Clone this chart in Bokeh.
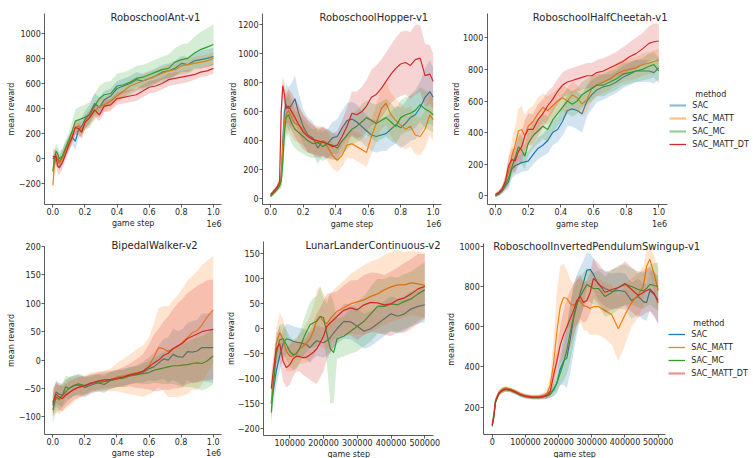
import math
from bokeh.plotting import figure
from bokeh.layouts import row, column
from bokeh.models import (Range1d, FixedTicker, Label, Legend, LegendItem,
                          NumeralTickFormatter, BasicTickFormatter, CustomJSTickFormatter)
from bokeh.embed import file_html
from bokeh.resources import INLINE

methods = ["SAC", "SAC_MATT", "SAC_MC", "SAC_MATT_DT"]
colors = ["#1f77b4", "#ff7f0e", "#2ca02c", "#d62728"]

# ---------------- RoboschoolAnt-v1 (x in 1e6 steps) ----------------
ant_x = [0.00, 0.01, 0.02, 0.03, 0.04, 0.06, 0.08, 0.10, 0.12, 0.14, 0.16, 0.18, 0.20, 0.23, 0.26, 0.29, 0.32,
         0.36, 0.40, 0.44, 0.48, 0.52, 0.56, 0.60, 0.64, 0.68, 0.72, 0.76, 0.80, 0.84, 0.88, 0.92, 0.96, 1.00]
ant_sac = [0, 10, -20, 10, -30, 20, 80, 120, 170, 140, 230, 260, 310, 360, 440, 410, 470,
           500, 560, 580, 600, 630, 620, 640, 660, 690, 700, 720, 760, 750, 780, 790, 800, 815]
ant_sac_sd = [30, 40, 50, 60, 60, 60, 60, 60, 60, 70, 70, 70, 70, 70, 80, 80, 70,
              60, 60, 60, 60, 60, 60, 60, 60, 60, 60, 60, 60, 60, 60, 70, 70, 70]
ant_matt = [-210, -50, 30, 0, -40, 10, 70, 130, 180, 250, 260, 230, 290, 330, 380, 420, 430,
            460, 500, 540, 580, 600, 620, 640, 660, 680, 700, 710, 740, 750, 760, 770, 780, 800]
ant_matt_sd = [90, 80, 60, 60, 50, 50, 50, 50, 50, 60, 60, 60, 60, 60, 70, 70, 60,
               60, 50, 50, 50, 50, 50, 50, 50, 50, 50, 50, 50, 50, 50, 50, 50, 50]
ant_mc = [-100, 0, 60, 40, 0, 20, 90, 150, 220, 300, 310, 320, 330, 350, 420, 480, 510,
          520, 580, 590, 610, 640, 650, 670, 690, 710, 720, 770, 790, 800, 840, 870, 890, 910]
ant_mc_sd = [60, 60, 60, 60, 60, 60, 60, 60, 80, 90, 100, 100, 100, 100, 100, 100, 100,
             100, 100, 100, 100, 100, 100, 100, 100, 100, 110, 110, 120, 120, 130, 140, 150, 160]
ant_dt = [20, 15, 20, -60, -70, -30, 40, 110, 170, 250, 240, 210, 290, 330, 390, 350, 420,
          430, 480, 490, 500, 510, 540, 570, 580, 600, 630, 640, 650, 660, 670, 690, 700, 720]
ant_dt_sd = [60, 60, 60, 60, 60, 50, 50, 50, 50, 50, 50, 50, 50, 50, 50, 50, 50,
             50, 50, 50, 50, 50, 50, 50, 50, 50, 50, 50, 50, 50, 40, 40, 40, 40]

# ---------------- RoboschoolHopper-v1 ----------------
hop_x = [0, 0.02, 0.04, 0.055, 0.065, 0.075, 0.085, 0.095, 0.11, 0.13, 0.15, 0.17, 0.2, 0.23, 0.26, 0.29, 0.32, 0.35,
         0.38, 0.41, 0.44, 0.47, 0.5, 0.53, 0.56, 0.59, 0.62, 0.65, 0.68, 0.71, 0.74, 0.77, 0.8, 0.83, 0.86, 0.89,
         0.92, 0.95, 0.98, 1.0]
hop_sac = [25, 50, 75, 100, 150, 400, 600, 650, 620, 650, 690, 600, 500, 440, 420, 350, 400, 380,
           420, 430, 490, 540, 550, 530, 500, 470, 440, 430, 440, 450, 480, 510, 490, 520, 560, 580,
           630, 700, 740, 700]
hop_sac_sd = [10, 15, 20, 25, 60, 120, 130, 140, 150, 150, 160, 140, 120, 120, 110, 110, 100, 100,
              110, 120, 120, 120, 120, 120, 110, 110, 110, 110, 110, 120, 120, 130, 140, 150, 160, 170,
              180, 200, 220, 200]
hop_matt = [20, 45, 70, 95, 140, 350, 540, 580, 610, 560, 520, 510, 480, 430, 410, 380, 400, 360,
            300, 265, 300, 370, 380, 360, 340, 320, 430, 520, 620, 660, 580, 540, 510, 480, 500, 440,
            430, 480, 580, 545]
hop_matt_sd = [10, 15, 20, 25, 60, 120, 130, 140, 140, 130, 120, 120, 110, 110, 100, 100, 100, 100,
               90, 80, 80, 90, 100, 100, 100, 100, 120, 130, 140, 150, 150, 150, 150, 140, 140, 130,
               130, 130, 140, 150]
hop_mc = [15, 40, 65, 90, 120, 250, 450, 560, 580, 520, 480, 460, 430, 400, 380, 390, 360, 380,
          370, 350, 400, 440, 480, 500, 530, 560, 540, 520, 540, 560, 530, 500, 560, 580, 590, 610,
          650, 620, 600, 580]
hop_mc_sd = [10, 15, 20, 25, 50, 100, 120, 130, 140, 140, 130, 130, 120, 110, 100, 100, 100, 100,
             90, 90, 90, 100, 110, 110, 120, 120, 120, 130, 130, 130, 130, 120, 120, 120, 120, 120,
             120, 130, 130, 120]
hop_dt = [30, 55, 80, 120, 600, 780, 720, 620, 640, 600, 560, 520, 460, 430, 410, 400, 390, 380,
          360, 370, 430, 500, 590, 580, 600, 640, 700, 720, 760, 810, 860, 900, 930, 940, 920, 960,
          970, 850, 860, 810]
hop_dt_sd = [10, 15, 20, 30, 100, 60, 80, 100, 120, 130, 130, 130, 120, 110, 100, 100, 100, 100,
             90, 100, 110, 130, 150, 160, 170, 180, 190, 200, 200, 200, 200, 210, 220, 220, 230, 240,
             230, 220, 200, 190]

# ---------------- RoboschoolHalfCheetah-v1 ----------------
hc_x = [0, 0.02, 0.04, 0.06, 0.08, 0.10, 0.12, 0.14, 0.16, 0.18, 0.20, 0.23, 0.26, 0.29, 0.32, 0.35, 0.38, 0.41,
        0.44, 0.47, 0.50, 0.53, 0.56, 0.59, 0.62, 0.66, 0.70, 0.74, 0.78, 0.82, 0.86, 0.90, 0.94, 0.97, 1.00]
hc_sac = [0, 10, 30, 60, 90, 170, 190, 200, 210, 215, 220, 260, 300, 320, 350, 400, 420, 470,
          540, 550, 540, 520, 600, 640, 670, 690, 700, 720, 750, 770, 790, 790, 790, 780, 810]
hc_sac_sd = [10, 15, 20, 30, 50, 60, 60, 60, 60, 60, 60, 60, 70, 70, 80, 80, 80, 90,
             100, 110, 120, 120, 100, 90, 80, 80, 70, 70, 70, 70, 70, 70, 70, 70, 70]
hc_matt = [5, 20, 40, 80, 150, 250, 320, 410, 420, 380, 440, 470, 520, 560, 540, 570, 600, 620,
           600, 640, 620, 580, 610, 680, 700, 720, 740, 770, 790, 800, 810, 830, 840, 850, 860]
hc_matt_sd = [10, 15, 20, 40, 80, 100, 120, 140, 150, 130, 110, 100, 100, 90, 90, 80, 80, 80,
              80, 80, 80, 80, 80, 80, 70, 70, 70, 70, 70, 70, 70, 70, 70, 70, 70]
hc_mc = [0, 15, 40, 70, 110, 180, 240, 310, 290, 250, 330, 380, 410, 440, 420, 480, 520, 560,
         600, 580, 600, 640, 660, 680, 700, 700, 720, 740, 770, 780, 790, 800, 820, 830, 790]
hc_mc_sd = [10, 15, 20, 30, 50, 60, 80, 90, 90, 80, 80, 80, 80, 80, 80, 80, 80, 80,
            80, 80, 80, 80, 80, 80, 70, 70, 70, 70, 70, 70, 70, 70, 80, 80, 80]
hc_dt = [10, 20, 40, 90, 190, 230, 220, 280, 310, 380, 420, 420, 480, 520, 570, 610, 660, 700,
         720, 730, 740, 750, 760, 760, 780, 790, 810, 830, 850, 880, 900, 930, 965, 975, 980]
hc_dt_sd = [10, 15, 20, 40, 60, 70, 80, 90, 100, 100, 100, 100, 100, 90, 90, 80, 80, 80,
            80, 80, 80, 80, 80, 80, 80, 80, 80, 80, 90, 90, 100, 100, 110, 115, 110]

# ---------------- BipedalWalker-v2 ----------------
bw_x = [0, 0.02, 0.04, 0.06, 0.08, 0.10, 0.13, 0.16, 0.20, 0.24, 0.28, 0.32, 0.36, 0.40, 0.44, 0.48,
        0.52, 0.56, 0.60, 0.63, 0.66, 0.69, 0.72, 0.75, 0.78, 0.81, 0.84, 0.87, 0.90, 0.93, 0.96, 1.00]
bw_sac = [-80, -56, -60, -62, -56, -50, -45, -44, -48, -44, -40, -43, -36, -33, -30, -27,
          -25, -22, -15, -12, -5, 2, 0, 10, 6, 5, 15, 14, 16, 22, 22, 22]
bw_sac_sd = [20, 20, 20, 20, 20, 20, 18, 18, 18, 15, 15, 15, 15, 15, 15, 15,
             15, 18, 20, 25, 30, 35, 40, 45, 45, 50, 50, 55, 55, 60, 60, 62]
bw_matt = [-72, -68, -70, -65, -60, -57, -52, -48, -45, -40, -38, -37, -35, -30, -28, -25,
           -22, -20, -10, 5, 22, 20, 15, 20, 25, 32, 40, 48, 52, 62, 75, 88]
bw_matt_sd = [25, 25, 25, 25, 25, 25, 22, 20, 18, 18, 18, 18, 20, 25, 30, 35,
              40, 45, 50, 60, 70, 75, 80, 85, 90, 95, 100, 100, 105, 105, 100, 95]
bw_mc = [-88, -65, -68, -62, -47, -50, -45, -42, -45, -40, -40, -38, -36, -33, -32, -28,
         -26, -24, -22, -18, -16, -14, -12, -10, -10, -9, -8, -6, -5, -6, -2, 7]
bw_mc_sd = [25, 25, 22, 20, 20, 20, 18, 18, 16, 15, 15, 15, 15, 15, 15, 15,
            15, 18, 20, 22, 25, 28, 30, 32, 35, 38, 40, 42, 45, 48, 48, 50]
bw_dt = [-75, -60, -65, -68, -62, -58, -52, -48, -45, -41, -37, -35, -34, -32, -30, -26,
         -24, -20, -12, -5, 0, 8, 12, 20, 25, 30, 38, 42, 46, 50, 52, 54]
bw_dt_sd = [22, 22, 22, 22, 20, 20, 18, 18, 16, 15, 15, 15, 15, 15, 18, 20,
            25, 30, 40, 50, 55, 60, 65, 70, 75, 78, 80, 82, 85, 85, 88, 88]

# ---------------- LunarLanderContinuous-v2 ----------------
ll_x = [45000, 52000, 60000, 70000, 80000, 90000, 100000, 110000, 120000, 130000, 140000, 150000,
        160000, 170000, 180000, 190000, 200000, 210000, 220000, 230000, 240000, 260000, 280000,
        300000, 320000, 340000, 360000, 380000, 400000, 420000, 440000, 460000, 480000, 500000]
ll_sac = [-150, -120, -85, -55, -30, -20, -22, -25, -27, -28, -30, -32, -38, -30, -24, -26, -28,
          -24, -18, -8, 0, 15, 14, 5, -5, 0, 10, 20, 30, 25, 30, 40, 45, 48]
ll_sac_sd = [30, 30, 30, 30, 30, 30, 30, 30, 30, 30, 30, 30, 30, 30, 30, 30, 30,
             30, 30, 30, 30, 35, 35, 35, 35, 35, 35, 35, 35, 35, 35, 35, 35, 35]
ll_matt = [-150, -100, -30, -8, -20, -45, -55, -55, -48, -40, -35, -28, -20, -5, 18, 25, 15,
           10, 20, 28, 35, 42, 50, 54, 58, 65, 70, 78, 84, 88, 88, 92, 90, 87]
ll_matt_sd = [30, 30, 30, 40, 40, 40, 30, 30, 30, 30, 35, 40, 45, 50, 60, 60, 55,
              50, 50, 50, 50, 55, 60, 65, 70, 70, 70, 70, 70, 70, 65, 65, 65, 65]
ll_mc = [-168, -110, -50, -22, -20, -32, -45, -52, -50, -38, -20, -5, 8, 12, 15, 25, 22,
         -10, -40, -48, -20, -15, -5, 5, 15, 30, 45, 45, 50, 48, 55, 60, 70, 78]
ll_mc_sd = [25, 25, 30, 30, 30, 30, 30, 30, 30, 30, 35, 40, 45, 50, 50, 60, 40,
            60, 110, 100, 40, 40, 45, 50, 50, 55, 55, 55, 55, 55, 55, 55, 55, 55]
ll_dt = [-120, -80, -40, -30, -65, -78, -72, -60, -55, -56, -58, -57, -52, -47, -40, -28, -15,
         5, 12, 18, 25, 37, 42, 38, 48, 53, 52, 48, 50, 58, 62, 70, 80, 85]
ll_dt_sd = [30, 30, 30, 35, 40, 40, 40, 35, 30, 30, 35, 40, 50, 60, 70, 70, 70,
            65, 60, 55, 50, 50, 55, 60, 60, 60, 60, 60, 65, 65, 70, 70, 70, 65]

# ---------------- RoboschoolInvertedPendulumSwingup-v1 ----------------
pd_x = [0, 5000, 10000, 20000, 30000, 40000, 55000, 70000, 85000, 100000, 120000, 140000, 155000,
        165000, 175000, 185000, 195000, 205000, 215000, 225000, 235000, 245000, 255000, 265000,
        275000, 285000, 295000, 305000, 320000, 340000, 360000, 380000, 400000, 420000, 440000,
        455000, 465000, 475000, 488000, 500000]
pd_sac = [112, 160, 230, 270, 285, 290, 285, 275, 262, 255, 250, 250, 252, 256, 265, 285, 320, 390,
          430, 445, 540, 640, 710, 765, 820, 880, 885, 860, 810, 790, 775, 780, 775, 730, 750, 725,
          720, 780, 760, 735]
pd_sac_sd = [15, 15, 15, 12, 12, 12, 10, 10, 10, 10, 10, 10, 12, 15, 20, 30, 50, 80,
             120, 150, 170, 170, 150, 130, 110, 90, 80, 80, 80, 90, 90, 90, 90, 90, 90, 90,
             90, 100, 110, 120]
pd_matt = [115, 165, 235, 275, 290, 295, 290, 280, 268, 258, 252, 252, 258, 270, 310, 420, 580, 700,
           745, 740, 715, 705, 720, 730, 705, 700, 690, 700, 700, 680, 660, 590, 660, 720, 760, 800,
           900, 935, 860, 780]
pd_matt_sd = [15, 15, 15, 12, 12, 12, 10, 10, 10, 10, 10, 12, 15, 25, 50, 120, 200, 200,
              170, 140, 120, 110, 110, 110, 120, 120, 130, 140, 140, 140, 150, 160, 150, 120, 110, 100,
              80, 70, 90, 110]
pd_mc = [105, 150, 225, 268, 282, 288, 283, 272, 260, 252, 248, 248, 252, 258, 268, 290, 320, 370,
         420, 485, 570, 650, 715, 750, 780, 810, 800, 790, 790, 750, 770, 795, 810, 800, 785, 778,
         790, 810, 805, 800]
pd_mc_sd = [15, 15, 15, 12, 12, 12, 10, 10, 10, 10, 10, 10, 12, 15, 20, 30, 40, 60,
            90, 120, 140, 140, 120, 100, 90, 80, 80, 80, 90, 100, 110, 110, 100, 90, 90, 90,
            90, 100, 110, 120]
pd_dt = [110, 155, 230, 268, 282, 290, 286, 276, 262, 255, 250, 250, 254, 260, 280, 360, 430, 510,
         560, 600, 640, 680, 730, 750, 720, 730, 770, 840, 815, 770, 785, 795, 815, 785, 755, 770,
         780, 787, 765, 720]
pd_dt_sd = [15, 15, 15, 12, 12, 12, 10, 10, 10, 10, 10, 10, 12, 15, 25, 40, 60, 90,
            120, 140, 140, 130, 120, 110, 100, 100, 100, 100, 100, 100, 100, 100, 110, 110, 110, 110,
            110, 110, 110, 110]

# tick positions
ticks_1e6 = [0.0, 0.2, 0.4, 0.6, 0.8, 1.0]
ticks_ll_x = [100000, 200000, 300000, 400000, 500000]
ticks_pd_x = [0, 100000, 200000, 300000, 400000, 500000]
ticks_ant_y = [-200, 0, 200, 400, 600, 800, 1000]
ticks_hop_y = [0, 200, 400, 600, 800, 1000, 1200]
ticks_hc_y = [0, 200, 400, 600, 800, 1000]
ticks_bw_y = [-100, -50, 0, 50, 100, 150, 200]
ticks_ll_y = [-200, -150, -100, -50, 0, 50, 100, 150]
ticks_pd_y = [200, 400, 600, 800, 1000]

FONT = "DejaVu Sans"
TXT = "#262626"
AX = "#333333"
MINUS = CustomJSTickFormatter(code="return (tick < 0 ? '\\u2212' : '') + Math.abs(tick).toString();")


def style_axis(ax, standoff):
    ax.axis_line_color = AX
    ax.axis_line_width = 0.8
    ax.major_tick_line_color = AX
    ax.major_tick_line_width = 0.8
    ax.major_tick_out = 3
    ax.major_tick_in = 0
    ax.minor_tick_line_color = None
    ax.major_label_text_font = FONT
    ax.major_label_text_font_size = "8px"
    ax.major_label_text_color = TXT
    ax.major_label_standoff = standoff


def text(p, H, x, y, s, size="8px", align="center", baseline="middle", angle=0.0):
    # x, y given in canvas pixels from the top-left corner of this figure
    p.add_layout(Label(x=x, y=H - y, x_units="screen", y_units="screen", text=s, angle=angle,
                       text_font=FONT, text_font_size=size, text_color=TXT,
                       text_align=align, text_baseline=baseline))


def panel(title, xs, series, xlim, ylim, box, origin, size, xt, yt, xfmt,
          title_pos, ylab_x, gs_y, e6_y):
    ox, oy = origin
    W, H = size
    L, R, T, B = box[0] - ox, box[1] - ox, box[2] - oy, box[3] - oy
    x0, x1 = xlim
    y0, y1 = ylim
    kx = (x1 - x0) / (R - L)
    ky = (y1 - y0) / (B - T)
    xr = (x0 - L * kx, x1 + (W - R) * kx)
    yr = (y0 - (H - B) * ky, y1 + T * ky)
    p = figure(width=W, height=H, x_range=Range1d(*xr), y_range=Range1d(*yr),
               output_backend="svg", toolbar_location=None, min_border=0)
    p.outline_line_color = None
    p.xgrid.visible = False
    p.ygrid.visible = False
    for (mean, sd), c in zip(series, colors):
        lo = [m - s for m, s in zip(mean, sd)]
        hi = [m + s for m, s in zip(mean, sd)]
        p.varea(x=xs, y1=lo, y2=hi, fill_color=c, fill_alpha=0.2)
        p.line(xs, mean, line_color=c, line_width=1.2)
    xa, ya = p.xaxis[0], p.yaxis[0]
    style_axis(xa, 0)
    style_axis(ya, 1)
    xa.fixed_location = y0
    xa.bounds = (x0, x1)
    ya.fixed_location = x0
    ya.bounds = (y0, y1)
    xa.ticker = FixedTicker(ticks=xt)
    ya.ticker = FixedTicker(ticks=yt)
    xa.formatter = xfmt
    ya.formatter = MINUS
    text(p, H, title_pos[0] - ox, title_pos[1] - oy, title, size="10px", align="left", baseline="alphabetic")
    text(p, H, ylab_x - ox, (T + B) / 2, "mean reward", angle=math.pi / 2)
    text(p, H, (L + R) / 2, gs_y - oy, "game step")
    if e6_y is not None:
        text(p, H, R, e6_y - oy, "1e6", align="right")
    return p, H


def add_legend(p, H, origin, anchor, gx, first_y, title_xy, alphas, widths):
    ox, oy = origin
    ax_, ay_ = anchor
    items = []
    for m, c, a, lw in zip(methods, colors, alphas, widths):
        # single-point line: draws nothing in the plot, only provides the legend swatch
        r = p.line(x=[ax_], y=[ay_], line_color=c, line_alpha=a, line_width=lw)
        items.append(LegendItem(label=m, renderers=[r]))
    top = first_y - 6 - oy
    bottom = top + 4 * 12 + 3
    leg = Legend(items=items, location=(gx - ox, H - bottom), orientation="vertical", padding=0, margin=0,
                 spacing=1, glyph_width=17, glyph_height=12, label_height=12, label_standoff=6,
                 label_text_font=FONT, label_text_font_size="8px", label_text_color=TXT,
                 border_line_color=None, background_fill_alpha=0)
    p.add_layout(leg)
    text(p, H, title_xy[0] - ox, title_xy[1] - oy, "method")


fmt_1e6 = NumeralTickFormatter(format="0.0")
fmt_int = BasicTickFormatter(use_scientific=False)

f1, _ = panel("RoboschoolAnt-v1", ant_x,
              [(ant_sac, ant_sac_sd), (ant_matt, ant_matt_sd), (ant_mc, ant_mc_sd), (ant_dt, ant_dt_sd)],
              (-0.05, 1.05), (-364, 1155), (44.3, 221.0, 13.3, 204.0), (0, 0), (226, 230),
              ticks_1e6, ticks_ant_y, fmt_1e6, (110, 17.3), 10.5, 222.7, 222.5)
f2, _ = panel("RoboschoolHopper-v1", hop_x,
              [(hop_sac, hop_sac_sd), (hop_matt, hop_matt_sd), (hop_mc, hop_mc_sd), (hop_dt, hop_dt_sd)],
              (-0.05, 1.05), (-39, 1276), (262.0, 440.8, 13.3, 204.0), (226, 0), (218, 230),
              ticks_1e6, ticks_hop_y, fmt_1e6, (319, 17.3), 232.5, 223.5, 222.5)
f3, h3 = panel("RoboschoolHalfCheetah-v1", hc_x,
               [(hc_sac, hc_sac_sd), (hc_matt, hc_matt_sd), (hc_mc, hc_mc_sd), (hc_dt, hc_dt_sd)],
               (-0.05, 1.05), (-55, 1152), (486.8, 666.5, 13.3, 204.0), (444, 0), (309, 230),
               ticks_1e6, ticks_hc_y, fmt_1e6, (532.3, 17.3), 455.5, 223.5, 222.5)
add_legend(f3, h3, (444, 0), (hc_x[0], hc_sac[0]), 669.3, 105, (710.3, 94),
           [0.5, 0.5, 0.5, 1.0], [2.2, 2.2, 2.2, 1.3])

f4, _ = panel("BipedalWalker-v2", bw_x,
              [(bw_sac, bw_sac_sd), (bw_matt, bw_matt_sd), (bw_mc, bw_mc_sd), (bw_dt, bw_dt_sd)],
              (-0.05, 1.05), (-131.6, 200.5), (44.3, 220.7, 245.7, 434.3), (0, 230), (226, 228),
              ticks_1e6, ticks_bw_y, fmt_1e6, (111, 245.0), 10.8, 453.0, 451.7)
f5, _ = panel("LunarLanderContinuous-v2", ll_x,
              [(ll_sac, ll_sac_sd), (ll_matt, ll_matt_sd), (ll_mc, ll_mc_sd), (ll_dt, ll_dt_sd)],
              (23000, 526700), (-214, 175), (263.3, 433.3, 241.0, 435.0), (226, 230), (218, 228),
              ticks_ll_x, ticks_ll_y, fmt_int, (305, 245.0), 230.5, 453.5, None)
f6, h6 = panel("RoboschoolInvertedPendulumSwingup-v1", pd_x,
               [(pd_sac, pd_sac_sd), (pd_matt, pd_matt_sd), (pd_mc, pd_mc_sd), (pd_dt, pd_dt_sd)],
               (-25300, 522000), (63, 1012), (483.3, 665.0, 243.3, 434.3), (444, 230), (309, 228),
               ticks_pd_x, ticks_pd_y, fmt_int, (492.7, 245.7), 450.5, 453.5, None)
add_legend(f6, h6, (444, 230), (pd_x[0], pd_sac[0]), 668.3, 334.3, (708.3, 323.3),
           [1.0, 1.0, 1.0, 0.5], [1.3, 1.3, 1.3, 2.2])

layout = column(row(f1, f2, f3), row(f4, f5, f6))

with open("out.html", "w", encoding="utf-8") as fh:
    fh.write(file_html(layout, INLINE))
